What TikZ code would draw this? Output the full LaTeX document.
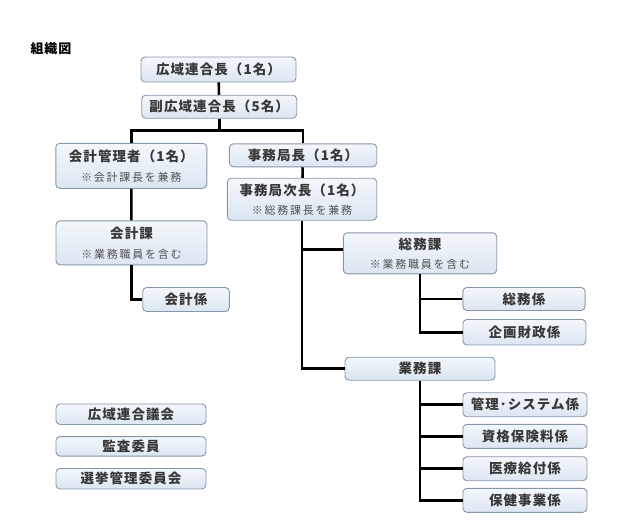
\documentclass[tikz,border=0pt]{standalone}
\usepackage{fontspec}
\setmainfont{Noto Sans CJK JP}
\usepackage{xcolor}
\usepackage{tikz}

\definecolor{boxtop}{HTML}{F3F7FB}
\definecolor{boxbot}{HTML}{DCE6F1}
\definecolor{boxline}{HTML}{8797AA}
\definecolor{boxtext}{HTML}{383838}
\definecolor{notetext}{HTML}{505050}

\tikzset{
  box/.style={draw=boxline, line width=0.9pt, rounded corners=4pt,
    top color=boxtop, bottom color=boxbot, text=boxtext, inner sep=0pt,
    font=\fontsize{13.5}{15}\selectfont\bfseries\addfontfeatures{LetterSpace=8},
    minimum height=23pt, align=center},
  box2/.style={box, minimum height=43pt},
  wire/.style={line width=2.6pt, black}
}
\newcommand{\nota}[1]{{\fontsize{11}{12}\selectfont\mdseries\color{notetext}\addfontfeatures{LetterSpace=16}#1}}

\begin{document}
\begin{tikzpicture}[x=1pt, y=-1pt]
    \useasboundingbox (0,0) rectangle (644,531);

    % Titolo
    \node[font=\fontsize{13}{14}\selectfont\bfseries\addfontfeatures{LetterSpace=6}] (titolo) at (51,48.5) {組織図};

    % Vertice
    \node[box, minimum width=155pt, minimum height=25pt] (capo) at (218.5,69.5) {広域連合長（1名）};
    \node[box, minimum width=155pt] (vice) at (219.2,106.7) {副広域連合長（5名）};
    \coordinate (barra) at (219.2,130.7);

    % Ramo contabile
    \node[box2, minimum width=151pt, minimum height=45pt] (cassiere) at (131.3,165.8) {会計管理者（1名）\\[5pt]\nota{※会計課長を兼務}};
    \node[box2, minimum width=151pt, minimum height=44pt] (kaikeika) at (131.5,242.8) {会計課\\[5pt]\nota{※業務職員を含む}};
    \node[box, minimum width=86.6pt, minimum height=24pt] (kaikeigakari) at (186,299.5) {会計係};

    % Segreteria
    \node[box, minimum width=147.4pt] (jimu) at (303,155.3) {事務局長（1名）};
    \node[box2, minimum width=149.4pt, minimum height=42pt] (jimuvice) at (302,199.2) {事務局次長（1名）\\[4pt]\nota{※総務課長を兼務}};

    % Ufficio affari generali
    \node[box2, minimum width=153.4pt, minimum height=41pt] (somuka) at (420,253.3) {総務課\\[4pt]\nota{※業務職員を含む}};
    \node[box, minimum width=122.3pt] (somu) at (524,299) {総務係};
    \node[box, minimum width=123pt, minimum height=25.5pt] (kikaku) at (524.5,332.2) {企画財政係};

    % Ufficio operativo
    \node[box, minimum width=150pt] (gyomuka) at (420,368.7) {業務課};
    \node[box, minimum width=124pt, minimum height=24pt] (kanri) at (525,404.7) {管理･システム係};
    \node[box, minimum width=124pt, minimum height=24pt] (shikaku) at (525,436.3) {資格保険料係};
    \node[box, minimum width=124pt, minimum height=24pt] (iryo) at (525,468.7) {医療給付係};
    \node[box, minimum width=124pt, minimum height=24pt] (hoken) at (525,500.3) {保健事業係};

    % Organi separati
    \node[box, minimum width=150pt, minimum height=20.5pt] (gikai) at (131,414.2) {広域連合議会};
    \node[box, minimum width=150pt, minimum height=19.5pt] (kansa) at (131,446.3) {監査委員};
    \node[box, minimum width=150pt, minimum height=20.5pt] (senkyo) at (131,478.7) {選挙管理委員会};

    % Collegamenti
    \draw[wire] (capo) -- (vice);
    \draw[wire] (vice.south) -- (barra);
    \draw[wire] (cassiere.north) |- (barra) -| (jimu.north);
    \draw[wire] (cassiere) -- (kaikeika);
    \draw[wire] (kaikeika.south) |- (kaikeigakari.west);
    \draw[wire] (jimu) -- (jimuvice);
    \draw[wire] (jimuvice.south) |- ([yshift=4pt]somuka.west);
    \draw[wire] (jimuvice.south) |- (gyomuka.west);
    \draw[wire] (somuka.south) |- (somu.west);
    \draw[wire] (somuka.south) |- (kikaku.west);
    \foreach \k in {kanri, shikaku, iryo, hoken}
        \draw[wire] (gyomuka.south) |- (\k.west);
\end{tikzpicture}
\end{document}
